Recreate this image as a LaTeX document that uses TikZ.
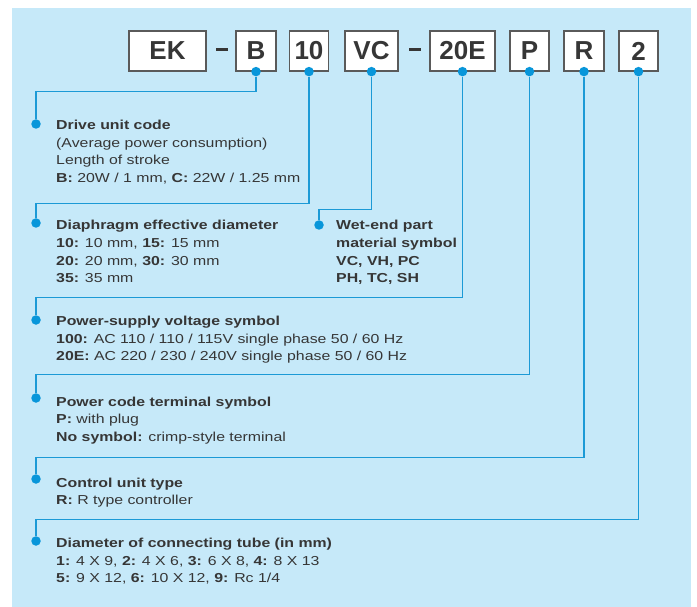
\documentclass[tikz,border=0pt]{standalone}
\usepackage{fontspec}
\setmainfont{Liberation Sans}
\newfontfamily\wide{Liberation Sans}[FakeStretch=1.22]
\definecolor{fondo}{HTML}{C6E9F9}
\definecolor{lineblue}{HTML}{1C9AD6}
\definecolor{dotblue}{HTML}{0896DA}
\definecolor{boxgray}{HTML}{5A5A5A}
\definecolor{textgray}{HTML}{363636}
\begin{document}
\begin{tikzpicture}[x=1pt, y=-1pt,
    box/.style={draw=boxgray, line width=1.2pt, fill=white, minimum height=40pt, inner sep=0pt,
      text=textgray, font=\bfseries\fontsize{26}{26}\selectfont},
    dot/.style={circle, fill=dotblue, inner sep=0pt, minimum size=9.5pt},
    link/.style={draw=lineblue, line width=1.2pt},
    info/.style={anchor=base west, inner sep=0pt, align=left, text=textgray,
      font=\wide\fontsize{13}{17.6}\selectfont}]
    % Fondo
    \useasboundingbox (0,0) rectangle (697,607);
    \fill[fondo] (12,8) rectangle (691,607);

    % Codigo
    \node[box, minimum width=77pt] (ek) at (167.5,51) {EK};
    \node[box, minimum width=40pt] (b) at (256,51) {B};
    \node[box, minimum width=39pt] (ten) at (309,51) {10};
    \node[box, minimum width=53pt] (vc) at (371.5,51) {VC};
    \node[box, minimum width=65pt] (e20) at (462.5,51) {20E};
    \node[box, minimum width=39pt] (p) at (529.5,51) {P};
    \node[box, minimum width=40pt] (r) at (584,51) {R};
    \node[box, minimum width=39pt] (two) at (638.5,51) {2};
    \fill[textgray] (216,48.5) rectangle (228,51.5);
    \fill[textgray] (409,48.5) rectangle (421,51.5);

    % Textos (base = ultima linea)
    \node[info] (tdrive) at (56,182.3) {\textbf{Drive unit code}\\(Average power consumption)\\Length of stroke\\
      \textbf{B:} 20W / 1 mm, \textbf{C:} 22W / 1.25 mm};
    \node[info] (tdia) at (56,282.8) {\textbf{Diaphragm effective diameter}\\\textbf{10:} 10 mm, \textbf{15:} 15 mm\\
      \textbf{20:} 20 mm, \textbf{30:} 30 mm\\\textbf{35:} 35 mm};
    \node[info, font=\wide\bfseries\fontsize{13}{17.6}\selectfont] (twet) at (336,282.8) {Wet-end part\\material symbol\\VC, VH, PC\\PH, TC, SH};
    \node[info] (tvolt) at (56,360.7) {\textbf{Power-supply voltage symbol}\\
      \textbf{100:} AC 110 / 110 / 115V single phase 50 / 60 Hz\\
      \textbf{20E:} AC 220 / 230 / 240V single phase 50 / 60 Hz};
    \node[info] (tplug) at (56,441.2) {\textbf{Power code terminal symbol}\\\textbf{P:} with plug\\
      \textbf{No symbol:} crimp-style terminal};
    \node[info] (tctrl) at (56,504.6) {\textbf{Control unit type}\\\textbf{R:} R type controller};
    \node[info] (ttube) at (56,582.7) {\textbf{Diameter of connecting tube (in mm)}\\
      \textbf{1:} 4 X 9, \textbf{2:} 4 X 6, \textbf{3:} 6 X 8, \textbf{4:} 8 X 13\\
      \textbf{5:} 9 X 12, \textbf{6:} 10 X 12, \textbf{9:} Rc 1/4};

    % Puntos
    \node[dot] (bd) at (b.south) {};
    \node[dot] (tend) at (ten.south) {};
    \node[dot] (vcd) at (vc.south) {};
    \node[dot] (e20d) at (e20.south) {};
    \node[dot] (pd) at (p.south) {};
    \node[dot] (rd) at (r.south) {};
    \node[dot] (twod) at (two.south) {};
    \node[dot] (ddrive) at (36,124) {};
    \node[dot] (ddia) at (36,223) {};
    \node[dot] (dwet) at (319,225) {};
    \node[dot] (dvolt) at (36,320) {};
    \node[dot] (dplug) at (36,398) {};
    \node[dot] (dctrl) at (36,479) {};
    \node[dot] (dtube) at (36,541) {};

    % Lineas
    \draw[link] (bd) -- ++(0,20) -| (ddrive);
    \draw[link] (tend) -- ++(0,132) -| (ddia);
    \draw[link] (vcd) -- ++(0,138) -| (dwet);
    \draw[link] (e20d) -- ++(0,226) -| (dvolt);
    \draw[link] (pd) -- ++(0,303) -| (dplug);
    \draw[link] (rd) -- ++(0,386) -| (dctrl);
    \draw[link] (twod) -- ++(0,448) -| (dtube);
\end{tikzpicture}
\end{document}
